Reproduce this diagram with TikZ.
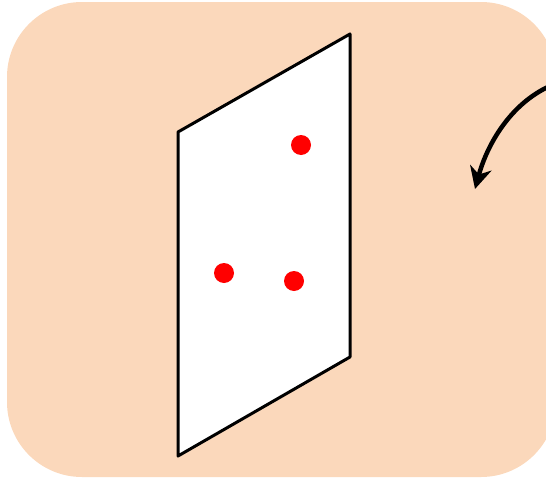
\documentclass[tikz,border=0pt]{standalone}
\usetikzlibrary{arrows.meta}
\definecolor{bgcol}{HTML}{FBD8BB}
\definecolor{dotcol}{HTML}{FF0000}

\begin{document}
\begin{tikzpicture}[x=1pt,y=-1pt,
	dot/.style={circle,fill=dotcol,inner sep=0pt,minimum size=20pt},
	plane/.style={draw=black,fill=white,line width=3pt,line join=round}]
\useasboundingbox (0,0) rectangle (546,479);
\begin{scope}
\clip (0,0) rectangle (546,479);
\fill[bgcol,rounded corners=75pt] (7,2) rectangle (556,477);
% the sheet
\draw[plane] (178,132) -- (350,34) -- (350,357) -- (178,456) -- cycle;
\node[dot] (p1) at (301,145) {};
\node[dot] (p2) at (224,273) {};
\node[dot] (p3) at (294,281) {};
% turning arrow
\coordinate (a) at (550,86);
\coordinate (b) at (475,189);
\draw[line width=4.5pt,-{Stealth[length=22pt,width=22pt,inset=7pt]}] (a) .. controls (510,104) and (487,145) .. (b);
\end{scope}
\end{tikzpicture}
\end{document}
